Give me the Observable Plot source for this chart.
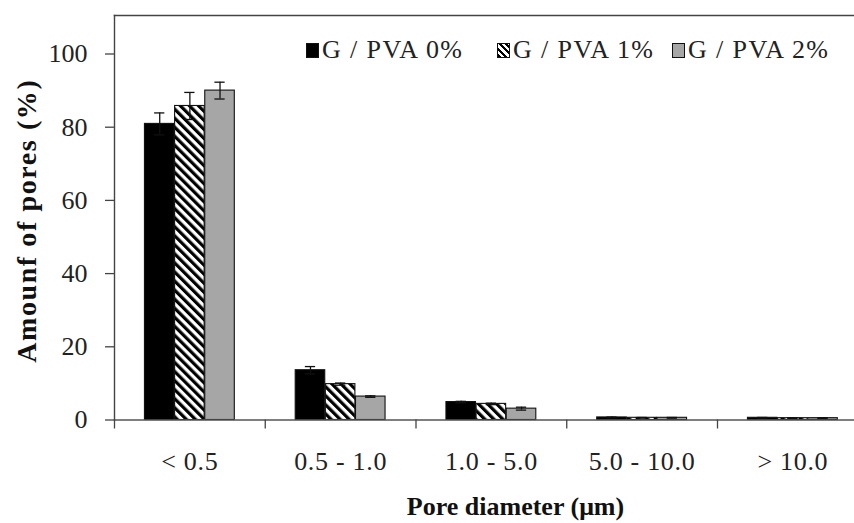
<!DOCTYPE html>
<html>
<head>
<meta charset="utf-8">
<script src="https://cdn.jsdelivr.net/npm/d3@7"></script>
<script src="https://cdn.jsdelivr.net/npm/@observablehq/plot@0.6"></script>
<style>
  html, body { margin: 0; padding: 0; background: #fff; }
  #wrap { position: relative; width: 854px; height: 523px; overflow: hidden; }
  .leg { position: absolute; top: 35px; display: flex; align-items: center; font-family: "Liberation Serif", serif; font-size: 26px; letter-spacing: 1.4px; color: #222; white-space: nowrap; }
  .sw { width: 13px; height: 15px; box-sizing: border-box; border: 1px solid #111; margin-right: 3px; }
</style>
</head>
<body>
<div id="wrap"></div>
<script>
// ---- data ----
const categories = ["< 0.5", "0.5 - 1.0", "1.0 - 5.0", "5.0 - 10.0", "> 10.0"];
const series = ["G / PVA 0%", "G / PVA 1%", "G / PVA 2%"];
const pva0 = [80.9, 13.6, 4.9, 0.7, 0.6];
const pva0Err = [3.0, 1.0, 0.2, 0.1, 0.1];
const pva1 = [85.8, 9.8, 4.4, 0.6, 0.5];
const pva1Err = [3.7, 0.3, 0.2, 0.1, 0.1];
const pva2 = [90.0, 6.4, 3.1, 0.6, 0.5];
const pva2Err = [2.3, 0.2, 0.4, 0.1, 0.1];
const yTicks = [0, 20, 40, 60, 80, 100];
const fills = ["#000000", "url(#hatch)", "#a6a6a6"];

const values = [pva0, pva1, pva2];
const errors = [pva0Err, pva1Err, pva2Err];
const rows = [];
categories.forEach((c, i) => series.forEach((s, j) => {
  rows.push({cat: i, s: j, v: values[j][i], e: errors[j][i], xc: i + 0.3 + 0.2 * j});
}));
const centers = categories.map((c, i) => i + 0.5);
const bounds = categories.map((c, i) => i);

const plot = Plot.plot({
  width: 854,
  height: 523,
  marginLeft: 114,
  marginRight: 0,
  marginTop: 15,
  marginBottom: 103.5,
  x: {type: "linear", domain: [0, 5], range: [114, 867.75]},
  y: {domain: [0, 100], range: [419.5, 53.5]},
  style: {fontFamily: "Liberation Serif", fontSize: "26px", color: "#222", background: "white"},
  marks: [
    ...series.map((s, j) => Plot.rectY(rows.filter(r => r.s === j), {
      x1: d => d.xc - 0.098, x2: d => d.xc + 0.098, y1: 0, y2: "v",
      fill: fills[j], stroke: "#111", strokeWidth: 1.1
    })),
    Plot.ruleX(rows, {x: "xc", y1: d => d.v - d.e, y2: d => d.v + d.e, stroke: "#111", strokeWidth: 1.3}),
    Plot.ruleY(rows, {y: d => d.v + d.e, x1: d => d.xc - 0.034, x2: d => d.xc + 0.034, stroke: "#111", strokeWidth: 1.3}),
    Plot.ruleY(rows, {y: d => d.v - d.e, x1: d => d.xc - 0.034, x2: d => d.xc + 0.034, stroke: "#111", strokeWidth: 1.3}),
    Plot.frame({anchor: "top", stroke: "#444", strokeWidth: 1.6}),
    Plot.frame({anchor: "left", stroke: "#444", strokeWidth: 1.4}),
    Plot.frame({anchor: "bottom", stroke: "#555", strokeWidth: 1.3}),
    Plot.axisY({ticks: yTicks, tickSize: 9, tickFormat: () => "", label: null, stroke: "#444", strokeWidth: 1.3}),
    Plot.text(yTicks, {y: d => d, text: d => String(d), frameAnchor: "left", dx: -27, textAnchor: "end", lineAnchor: "middle", fill: "#222"}),
    Plot.axisX({ticks: bounds, tickSize: 9, tickFormat: () => "", label: null, stroke: "#444", strokeWidth: 1.3}),
    Plot.text(centers, {x: d => d, text: d => categories[Math.floor(d)], frameAnchor: "bottom", dy: 42, lineAnchor: "middle", textAnchor: "middle", fill: "#222"}),
    Plot.text(["Pore diameter (μm)"], {frameAnchor: "bottom", dx: 31, dy: 87, lineAnchor: "middle", textAnchor: "middle", fontWeight: "bold", fontSize: 26, fill: "#111"}),
    Plot.text(["Amounf of pores (%)"], {frameAnchor: "left", rotate: -90, dx: -87, dy: 3, lineAnchor: "middle", textAnchor: "middle", fontWeight: "bold", fontSize: 28, fill: "#111"})
  ]
});

// hatch pattern definition
const svg = d3.select(plot);
const defs = svg.insert("defs", ":first-child");
const pat = defs.append("pattern").attr("id", "hatch").attr("patternUnits", "userSpaceOnUse")
  .attr("width", 6.4).attr("height", 6.4).attr("patternTransform", "rotate(-45)");
pat.append("rect").attr("width", 6.4).attr("height", 6.4).attr("fill", "white");
pat.append("rect").attr("width", 3.2).attr("height", 6.4).attr("fill", "black");

// letter spacing tweaks to approximate the original (wider) serif face
svg.selectAll("text").each(function () {
  const t = this.textContent;
  if (t === "Amounf of pores (%)") d3.select(this).style("letter-spacing", "1.6px");
  else if (categories.includes(t)) d3.select(this).style("letter-spacing", "0.7px");
});

const wrap = document.getElementById("wrap");
wrap.appendChild(plot);

// legend (overlay inside the plot frame)
const legLeft = [306, 497, 672];
series.forEach((s, j) => {
  const item = document.createElement("div");
  item.className = "leg";
  item.style.left = legLeft[j] + "px";
  const sw = document.createElement("div");
  sw.className = "sw";
  if (j === 1) {
    sw.style.background = "repeating-linear-gradient(45deg, #000 0 2.3px, #fff 2.3px 4.6px)";
  } else {
    sw.style.background = fills[j];
  }
  item.appendChild(sw);
  const t = document.createElement("span");
  t.textContent = s;
  item.appendChild(t);
  wrap.appendChild(item);
});
</script>
</body>
</html>
